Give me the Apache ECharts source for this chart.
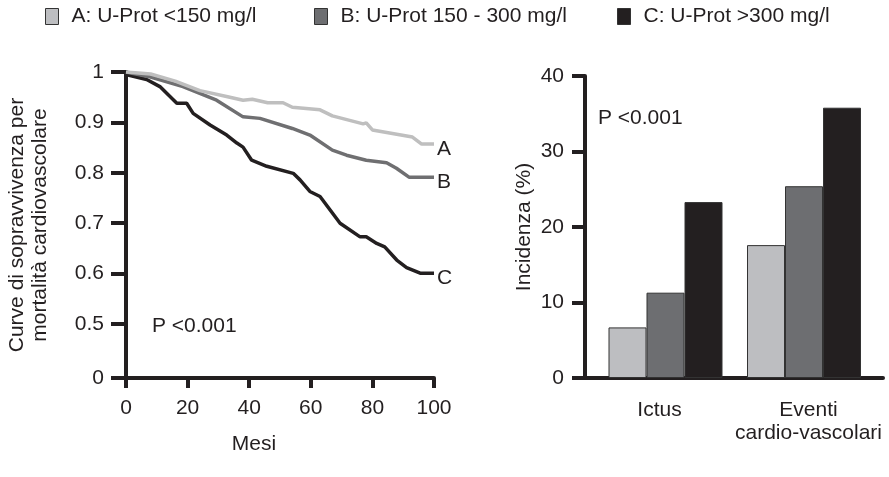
<!DOCTYPE html>
<html>
<head>
<meta charset="utf-8">
<script src="https://cdn.jsdelivr.net/npm/echarts@6.0.0/dist/echarts.min.js"></script>
<style>
  html, body { margin: 0; padding: 0; background: #fff; }
  #chart { width: 889px; height: 477px; }
</style>
</head>
<body>
<div id="chart"></div>
<script>
// gruppi di proteinuria
var groups = ['A: U-Prot <150 mg/l', 'B: U-Prot 150 - 300 mg/l', 'C: U-Prot >300 mg/l'];
var letters = ['A', 'B', 'C'];
var colors = ['#bdbec1', '#6d6e71', '#231f20'];
var lineColors = ['#bfbfbf', '#6f6f71', '#231f20'];

// curve di sopravvivenza (mesi, sopravvivenza)
var monthsA = [0, 8, 16, 24, 33, 38, 41, 46, 51, 54, 63, 67, 77, 78, 80, 93, 96, 100];
var survA = [1, 0.996, 0.982, 0.963, 0.951, 0.944, 0.946, 0.939, 0.939, 0.930, 0.925, 0.913, 0.897, 0.899, 0.885, 0.871, 0.857, 0.857];
var monthsB = [0, 8, 18.5, 29.4, 38, 43.5, 54, 59.7, 67, 71.6, 78, 84.6, 87.8, 92, 100];
var survB = [1, 0.99, 0.971, 0.944, 0.911, 0.908, 0.888, 0.875, 0.845, 0.835, 0.825, 0.820, 0.809, 0.791, 0.791];
var monthsC = [0, 6.7, 11, 16.5, 19.7, 21.8, 27.3, 32.7, 36, 38, 40.8, 45.7, 54.3, 56.5, 59.7, 63, 69.5, 76, 78, 81.4, 84, 87.9, 91.1, 95.5, 100];
var survC = [0.995, 0.985, 0.971, 0.938, 0.938, 0.918, 0.895, 0.875, 0.859, 0.851, 0.825, 0.813, 0.799, 0.786, 0.763, 0.753, 0.700, 0.673, 0.673, 0.660, 0.653, 0.627, 0.612, 0.601, 0.601];

// tacche asse y (asse interrotto: 0 in basso)
var yMin = 0.393;
var yTicks = [yMin, 0.5, 0.6, 0.7, 0.8, 0.9, 1];

// incidenza (%)
var eventCats = ['Ictus', 'Eventi\ncardio-vascolari'];
var incA = [6.7, 17.6];
var incB = [11.3, 25.4];
var incC = [23.3, 35.8];

var FONT = '"Liberation Sans", Arial, Helvetica, sans-serif';
var INK = '#231f20';
var FS = 21;

function pairs(xs, ys) {
  return xs.map(function (x, i) { return [x, ys[i]]; });
}

var chart = echarts.init(document.getElementById('chart'));

var axisLine = { show: true, lineStyle: { color: INK, width: 4 } };
var tickStyle = { color: INK, width: 4 };

var option = {
  animation: false,
  textStyle: { fontFamily: FONT, color: INK },
  legend: groups.map(function (g, i) {
    return {
      data: [g],
      left: [40, 309, 612][i],
      top: 1,
      icon: 'rect',
      itemWidth: 13,
      itemHeight: 16,
      selectedMode: false,
      itemStyle: { borderColor: '#333', borderWidth: 1 },
      textStyle: { fontSize: FS, color: INK, fontFamily: FONT, padding: [0, 0, 0, 8] }
    };
  }),
  grid: [
    { left: 126, top: 72, width: 308, bottom: 99 },
    { left: 585, top: 76, right: 6, bottom: 99 },
    { left: 596.25, top: 76, right: 15.75, bottom: 99 }
  ],
  xAxis: [
    {
      gridIndex: 0, type: 'value', min: 0, max: 100, interval: 20,
      name: 'Mesi', nameLocation: 'middle', nameGap: 56,
      nameTextStyle: { fontSize: FS, color: INK, padding: [0, 52, 0, 0] },
      axisLine: axisLine,
      axisTick: { show: true, length: 10, lineStyle: tickStyle },
      axisLabel: { fontSize: FS, color: INK, margin: 20 },
      splitLine: { show: false }
    },
    {
      gridIndex: 1, type: 'category', data: eventCats,
      axisLine: axisLine,
      axisTick: { show: false },
      axisLabel: { fontSize: FS, color: INK, margin: 21, lineHeight: 23, interval: 0, hideOverlap: false }
    },
    {
      gridIndex: 2, type: 'category', data: eventCats, show: false
    }
  ],
  yAxis: [
    {
      gridIndex: 0, type: 'value', min: yMin, max: 1,
      name: 'Curve di sopravvivenza per\nmortalità cardiovascolare',
      nameLocation: 'middle', nameGap: 74,
      nameTextStyle: { fontSize: FS, color: INK, lineHeight: 23 },
      axisLine: axisLine,
      axisTick: { show: true, length: 15, lineStyle: tickStyle, customValues: yTicks },
      axisLabel: {
        fontSize: FS, color: INK, margin: 22, customValues: yTicks,
        formatter: function (v) { return v < 0.45 ? '0' : String(+v.toFixed(1)); }
      },
      splitLine: { show: false }
    },
    {
      gridIndex: 1, type: 'value', min: 0, max: 40, interval: 10,
      name: 'Incidenza (%)', nameLocation: 'middle', nameGap: 50,
      nameTextStyle: { fontSize: FS, color: INK },
      axisLine: axisLine,
      axisTick: { show: true, length: 13, lineStyle: tickStyle },
      axisLabel: { fontSize: FS, color: INK, margin: 21 },
      splitLine: { show: false }
    },
    {
      gridIndex: 2, type: 'value', min: 0, max: 40, show: false
    }
  ],
  series: [],
  graphic: [
    { type: 'text', left: 152, top: 316, style: { text: 'P <0.001', fontSize: FS, fill: INK, fontFamily: FONT } },
    { type: 'text', left: 598, top: 108, style: { text: 'P <0.001', fontSize: FS, fill: INK, fontFamily: FONT } }
  ]
};

// barre prima, così la legenda prende il loro stile
[incA, incB, incC].forEach(function (vals, i) {
  option.series.push({
    name: groups[i], type: 'bar', xAxisIndex: 2, yAxisIndex: 2,
    data: vals, barWidth: 38, barGap: '0%',
    itemStyle: { color: colors[i], borderColor: '#333', borderWidth: 1 }
  });
});

[[monthsA, survA], [monthsB, survB], [monthsC, survC]].forEach(function (d, i) {
  option.series.push({
    name: groups[i], type: 'line', xAxisIndex: 0, yAxisIndex: 0,
    data: pairs(d[0], d[1]), showSymbol: false, symbol: 'none',
    lineStyle: { color: lineColors[i], width: 3.5 },
    itemStyle: { color: colors[i] },
    endLabel: {
      show: true, formatter: letters[i], fontSize: FS, color: INK,
      distance: 3, offset: [0, 5], fontFamily: FONT
    },
    z: 3 - i
  });
});

chart.setOption(option);
</script>
</body>
</html>
